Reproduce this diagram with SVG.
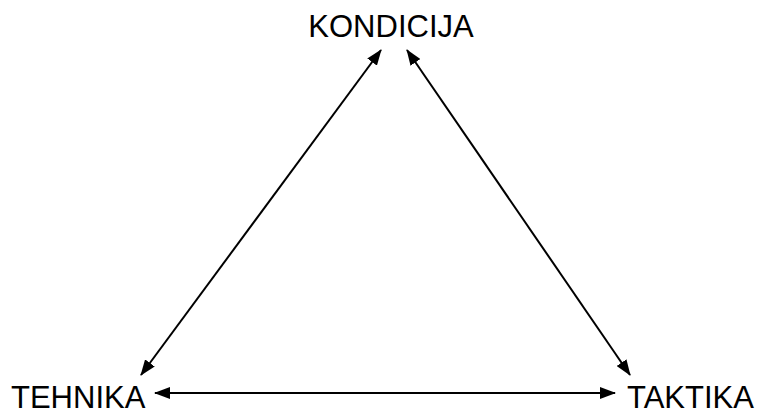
<svg xmlns="http://www.w3.org/2000/svg" width="762" height="412" viewBox="0 0 762 412">
<style>
.lbl{font-family:"Liberation Sans",Arial,sans-serif;font-size:31px;fill:#000}
.con{stroke:#000;stroke-width:2;fill:none;marker-start:url(#ah);marker-end:url(#ah)}
</style>
<defs>
<marker id="ah" viewBox="0 0 16 12" refX="15" refY="6" markerWidth="16" markerHeight="12" markerUnits="userSpaceOnUse" orient="auto-start-reverse">
<path d="M0,0 L16,6 L0,12 Z" fill="#000"/>
</marker>
</defs>
<rect width="762" height="412" fill="#fff"/>
<g id="kondicija"><text class="lbl" x="391" y="37" text-anchor="middle">KONDICIJA</text></g>
<g id="tehnika"><text class="lbl" x="11" y="408">TEHNIKA</text></g>
<g id="taktika"><text class="lbl" x="627" y="408">TAKTIKA</text></g>
<g id="connectors">
<line class="con" x1="381" y1="50" x2="141" y2="375"/>
<line class="con" x1="407" y1="50" x2="630" y2="375"/>
<line class="con" x1="155" y1="393" x2="615" y2="393"/>
</g>
</svg>
